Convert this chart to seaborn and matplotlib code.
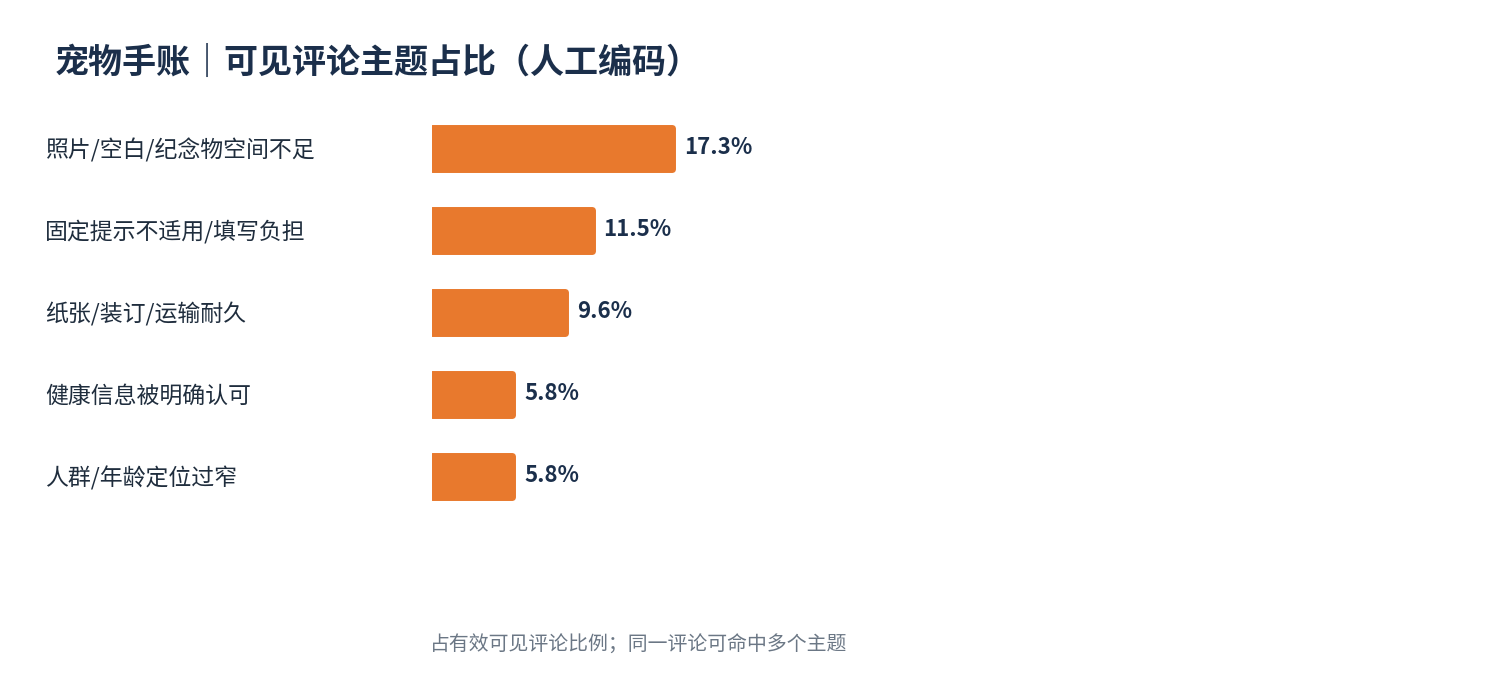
import matplotlib
matplotlib.use("Agg")
import matplotlib.pyplot as plt
import seaborn as sns
import pandas as pd

categories = ["照片/空白/纪念物空间不足", "固定提示不适用/填写负担", "纸张/装订/运输耐久", "健康信息被明确认可", "人群/年龄定位过窄"]
values = [17.3, 11.5, 9.6, 5.8, 5.8]
value_labels = ["17.3%", "11.5%", "9.6%", "5.8%", "5.8%"]
title = "宠物手账｜可见评论主题占比（人工编码）"
footnote = "占有效可见评论比例；同一评论可命中多个主题"

sns.set_theme(style="white")
plt.rcParams['font.family'] = ['Noto Sans CJK SC', 'DejaVu Sans']

df = pd.DataFrame({"cat": categories, "val": values})
fig = plt.figure(figsize=(15, 7), dpi=100)
ax = fig.add_axes([432/1500, 1-517/700, 1030/1500, 410/700])
orange = "#E8792D"
navy = "#1B2F4B"
sns.barplot(data=df, x="val", y="cat", ax=ax, color=orange, width=0.5, saturation=1,
            edgecolor=orange, linewidth=5)
for p in ax.patches:
    p.set_joinstyle("round")
ax.set_xlim(0, 1030/13.87)
ax.set_ylim(4.5, -0.5)
for s in ax.spines.values():
    s.set_visible(False)
ax.set_xticks([]); ax.set_yticks([])
ax.set_xlabel(""); ax.set_ylabel("")
for i, (v, lab) in enumerate(zip(values, value_labels)):
    ax.text(v + 0.85, i, lab, va="center", ha="left", fontsize=16, fontweight="bold", color=navy)
for i, c in enumerate(categories):
    fig.text(45/1500, 1-(150+82*i)/700, c, va="center", ha="left", fontsize=16.5, color="#1f2d3d")
fig.text(55/1500, 1-62/700, title, va="center", ha="left", fontsize=24.5, fontweight="bold", color=navy)
fig.text(430/1500, 1-645/700, footnote, va="center", ha="left", fontsize=14.3, color="#6B7785")
fig.savefig("out.png", dpi=100, facecolor="white")
